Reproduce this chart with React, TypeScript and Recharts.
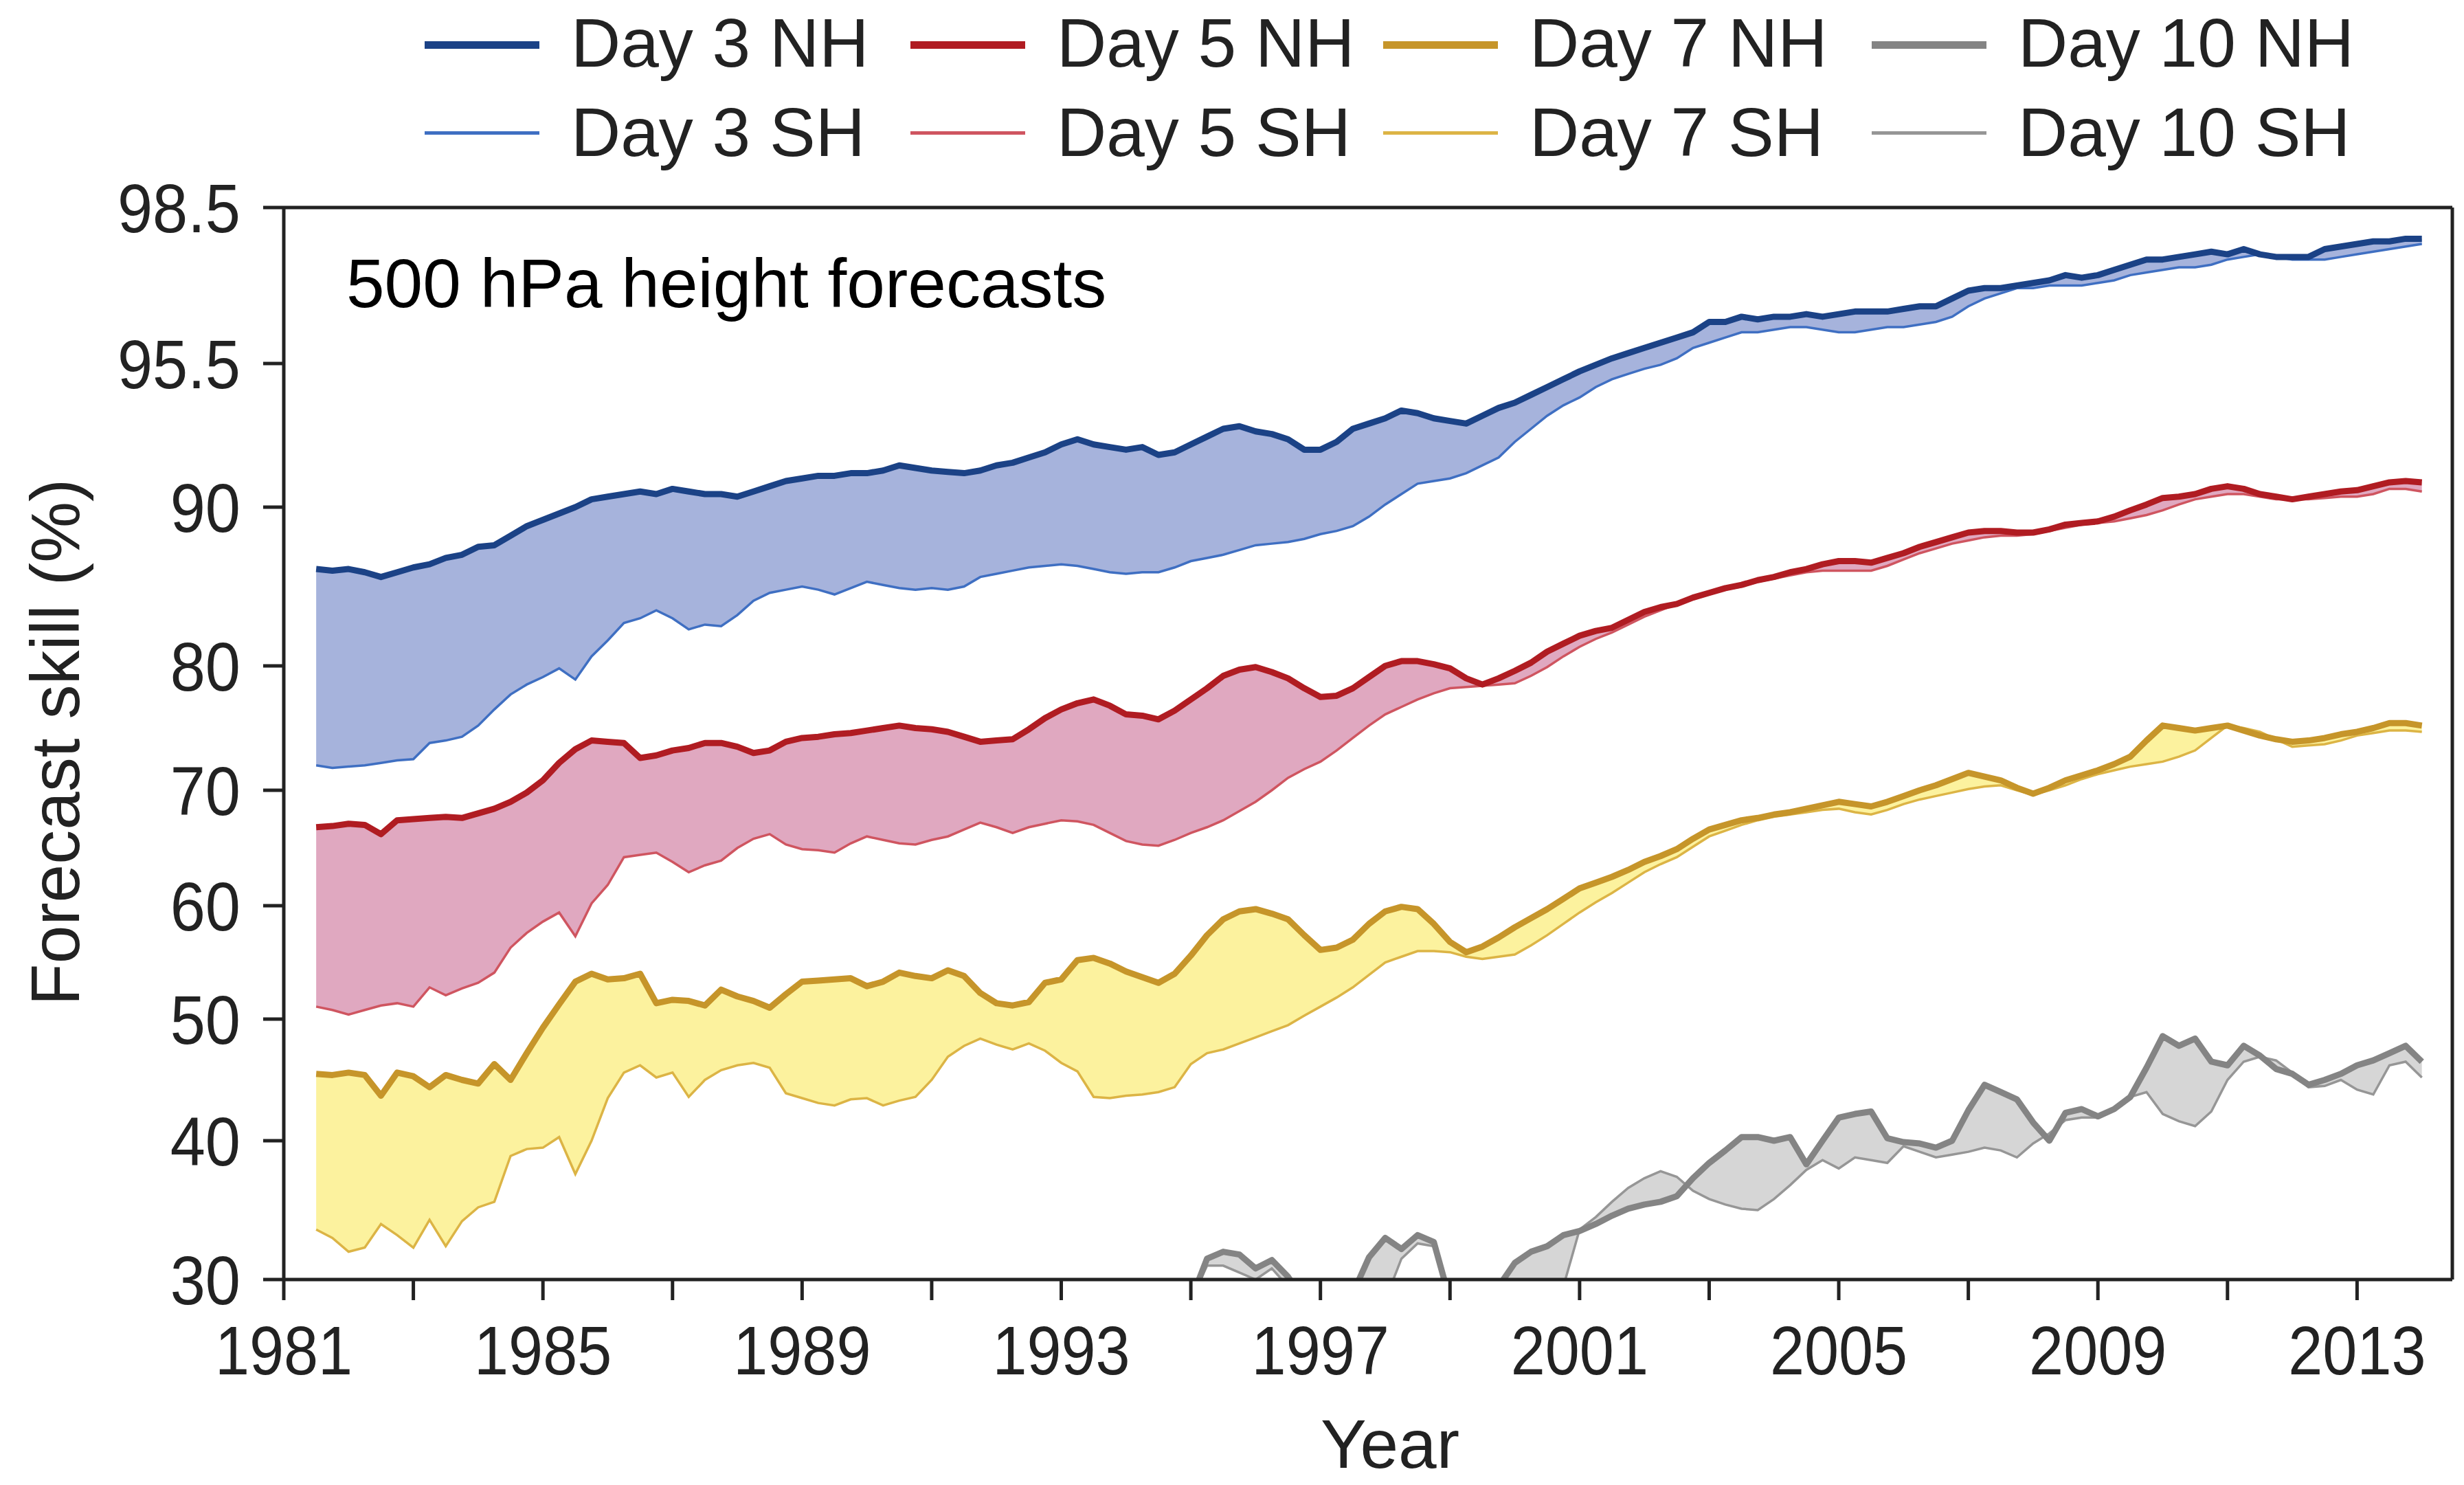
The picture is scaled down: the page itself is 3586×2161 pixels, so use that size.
import { Area, ComposedChart, Line, ReferenceLine, XAxis, YAxis } from "recharts";

// Running-mean anomaly correlation of 500 hPa height, sampled every quarter year from 1981.5
const FIRST_YEAR = 1981.5;
const STEP = 0.25;
// Day 10 records only show up on the plot from 1995 on
const DAY10_FIRST_YEAR = 1995;

const DAY3_NH = [
  86.1, 86.0,
  86.1, 85.9, 85.6, 85.9, 86.2, 86.4, 86.8, 87.0, 87.5, 87.6, 88.2, 88.8,
  89.2, 89.6, 90.0, 90.3, 90.4, 90.5, 90.6, 90.5, 90.7, 90.6, 90.5, 90.5,
  90.4, 90.6, 90.8, 91.0, 91.1, 91.2, 91.2, 91.3, 91.3, 91.4, 91.6, 91.5,
  91.4, 91.35, 91.3, 91.4, 91.6, 91.7, 91.9, 92.1, 92.4, 92.6, 92.4, 92.3,
  92.2, 92.3, 92.0, 92.1, 92.4, 92.7, 93.0, 93.1, 92.9, 92.8, 92.6, 92.2,
  92.2, 92.5, 93.0, 93.2, 93.4, 93.7, 93.6, 93.4, 93.3, 93.2, 93.5, 93.8,
  94.0, 94.3, 94.6, 94.9, 95.2, 95.45, 95.6, 95.7, 95.8, 95.9, 96.0, 96.1,
  96.3, 96.3, 96.4, 96.35, 96.4, 96.4, 96.45, 96.4, 96.45, 96.5, 96.5, 96.5,
  96.55, 96.6, 96.6, 96.75, 96.9, 96.95, 96.95, 97.0, 97.05, 97.1, 97.2, 97.15,
  97.2, 97.3, 97.4, 97.5, 97.5, 97.55, 97.6, 97.65, 97.6, 97.7, 97.6, 97.55,
  97.55, 97.55, 97.7, 97.75, 97.8, 97.85, 97.85, 97.9,
  97.9,
];

const DAY3_SH = [
  72.0, 71.8,
  71.9, 72.0, 72.2, 72.4, 72.5, 73.8, 74.0, 74.3, 75.2, 76.5, 77.7, 78.5,
  79.1, 79.8, 78.9, 80.6, 81.6, 82.7, 83.0, 83.5, 83.0, 82.3, 82.6, 82.5,
  83.2, 84.1, 84.6, 84.8, 85.0, 84.8, 84.5, 84.9, 85.3, 85.1, 84.9, 84.8,
  84.9, 84.8, 85.0, 85.6, 85.8, 86.0, 86.2, 86.3, 86.4, 86.3, 86.1, 85.9,
  85.8, 85.9, 85.9, 86.2, 86.6, 86.8, 87.0, 87.3, 87.6, 87.7, 87.8, 88.0,
  88.3, 88.5, 88.8, 89.4, 90.1, 90.5, 90.9, 91.0, 91.1, 91.3, 91.6, 91.9,
  92.5, 93.0, 93.5, 93.9, 94.2, 94.6, 94.9, 95.1, 95.3, 95.45, 95.6, 95.8,
  95.9, 96.0, 96.1, 96.1, 96.15, 96.2, 96.2, 96.15, 96.1, 96.1, 96.15, 96.2,
  96.2, 96.25, 96.3, 96.4, 96.6, 96.75, 96.85, 96.95, 96.95, 97.0, 97.0, 97.0,
  97.05, 97.1, 97.2, 97.25, 97.3, 97.35, 97.35, 97.4, 97.5, 97.55, 97.6, 97.55,
  97.5, 97.5, 97.5, 97.55, 97.6, 97.65, 97.7, 97.75,
  97.8,
];

const DAY5_NH = [
  66.8, 66.9,
  67.1, 67.0, 66.2, 67.4, 67.5, 67.6, 67.7, 67.6, 68.0, 68.4, 69.0, 69.8,
  70.8, 72.2, 73.3, 74.0, 73.9, 73.8, 72.6, 72.8, 73.2, 73.4, 73.8, 73.8,
  73.5, 73.0, 73.2, 73.9, 74.2, 74.3, 74.5, 74.6, 74.8, 75.0, 75.2, 75.0,
  74.9, 74.7, 74.3, 73.9, 74.0, 74.1, 74.9, 75.8, 76.5, 77.0, 77.3, 76.8,
  76.1, 76.0, 75.7, 76.4, 77.3, 78.2, 79.2, 79.7, 79.9, 79.5, 79.0, 78.2,
  77.5, 77.6, 78.2, 79.1, 80.0, 80.3, 80.3, 80.1, 79.8, 79.0, 78.5, 79.0,
  79.6, 80.2, 80.9, 81.4, 81.9, 82.2, 82.4, 82.9, 83.4, 83.7, 83.9, 84.3,
  84.6, 84.9, 85.1, 85.4, 85.6, 85.9, 86.1, 86.4, 86.6, 86.6, 86.5, 86.8,
  87.1, 87.5, 87.8, 88.1, 88.4, 88.5, 88.5, 88.4, 88.4, 88.6, 88.9, 89.0,
  89.1, 89.4, 89.8, 90.1, 90.35, 90.4, 90.5, 90.7, 90.8, 90.7, 90.5, 90.4,
  90.3, 90.4, 90.5, 90.6, 90.65, 90.8, 90.95, 91.0,
  90.95,
];

const DAY5_SH = [
  51.1, 50.8,
  50.4, 50.8, 51.2, 51.4, 51.1, 52.8, 52.1, 52.7, 53.2, 54.1, 56.3, 57.6,
  58.6, 59.4, 57.3, 60.2, 61.8, 64.2, 64.4, 64.6, 63.8, 62.9, 63.5, 63.9,
  65.0, 65.8, 66.2, 65.3, 64.9, 64.8, 64.6, 65.4, 66.0, 65.7, 65.4, 65.3,
  65.7, 66.0, 66.6, 67.2, 66.8, 66.3, 66.8, 67.1, 67.4, 67.3, 67.0, 66.3,
  65.6, 65.3, 65.2, 65.7, 66.3, 66.8, 67.4, 68.2, 69.0, 70.0, 71.0, 71.7,
  72.3, 73.2, 74.2, 75.2, 76.1, 76.7, 77.3, 77.8, 78.2, 78.3, 78.4, 78.5,
  78.6, 79.2, 79.9, 80.6, 81.2, 81.7, 82.1, 82.6, 83.1, 83.5, 83.9, 84.3,
  84.6, 84.8, 85.0, 85.3, 85.5, 85.7, 85.9, 86.0, 86.0, 86.0, 86.0, 86.3,
  86.7, 87.1, 87.4, 87.7, 87.9, 88.1, 88.2, 88.2, 88.3, 88.5, 88.7, 88.9,
  89.0, 89.1, 89.3, 89.5, 89.8, 90.1, 90.3, 90.4, 90.5, 90.5, 90.4, 90.3,
  90.3, 90.3, 90.35, 90.4, 90.4, 90.5, 90.7, 90.7,
  90.6,
];

const DAY7_NH = [
  45.5, 45.4,
  45.6, 45.4, 43.7, 45.6, 45.3, 44.4, 45.4, 45.0, 44.7, 46.3, 45.0, 47.2,
  49.3, 51.3, 53.3, 54.0, 53.5, 53.6, 54.0, 51.4, 51.7, 51.6, 51.2, 52.6,
  52.0, 51.6, 51.0, 52.2, 53.3, 53.4, 53.5, 53.6, 52.9, 53.3, 54.1, 53.8,
  53.6, 54.3, 53.8, 52.3, 51.4, 51.2, 51.5, 53.2, 53.5, 55.2, 55.4, 54.9,
  54.2, 53.7, 53.2, 54.0, 55.6, 57.4, 58.8, 59.5, 59.7, 59.3, 58.8, 57.4,
  56.1, 56.3, 57.0, 58.4, 59.5, 59.9, 59.7, 58.4, 56.8, 55.9, 56.4, 57.2,
  58.1, 58.9, 59.7, 60.6, 61.5, 62.0, 62.5, 63.1, 63.8, 64.3, 64.9, 65.8,
  66.6, 67.0, 67.4, 67.6, 67.9, 68.1, 68.4, 68.7, 69.0, 68.8, 68.6, 69.0,
  69.5, 70.0, 70.4, 70.9, 71.4, 71.1, 70.8, 70.2, 69.7, 70.2, 70.8, 71.2,
  71.6, 72.1, 72.7, 74.0, 75.2, 75.0, 74.8, 75.0, 75.2, 74.8, 74.4, 74.1,
  73.9, 74.0, 74.2, 74.5, 74.7, 75.0, 75.4, 75.4,
  75.2,
];

const DAY7_SH = [
  33.6, 33.0,
  32.0, 32.3, 34.0, 33.2, 32.3, 34.3, 32.4, 34.2, 35.2, 35.6, 38.9, 39.4,
  39.5, 40.3, 37.6, 40.0, 43.5, 45.6, 46.2, 45.2, 45.6, 43.6, 45.0, 45.8,
  46.2, 46.4, 46.0, 43.9, 43.5, 43.1, 42.9, 43.4, 43.5, 42.9, 43.3, 43.6,
  45.0, 46.9, 47.8, 48.4, 47.9, 47.5, 48.0, 47.4, 46.4, 45.7, 43.6, 43.5,
  43.7, 43.8, 44.0, 44.4, 46.3, 47.2, 47.5, 48.0, 48.5, 49.0, 49.5, 50.3,
  51.1, 51.9, 52.8, 53.9, 55.0, 55.5, 56.0, 56.0, 55.9, 55.5, 55.3, 55.5,
  55.7, 56.5, 57.4, 58.4, 59.4, 60.3, 61.1, 62.0, 62.9, 63.6, 64.2, 65.1,
  66.0, 66.5, 67.0, 67.4, 67.7, 67.9, 68.1, 68.3, 68.4, 68.1, 67.9, 68.3,
  68.8, 69.2, 69.5, 69.8, 70.1, 70.3, 70.4, 70.0, 69.6, 70.0, 70.4, 70.9,
  71.3, 71.6, 71.9, 72.1, 72.3, 72.7, 73.2, 74.2, 75.2, 75.0, 74.7, 74.1,
  73.5, 73.6, 73.7, 74.0, 74.4, 74.6, 74.8, 74.8,
  74.7,
];

const DAY10_NH = [
  28.5, 31.5, 32.0, 31.8, 30.8, 31.4, 30.2, 28.5, 27.5, 28.0, 29.0, 31.6,
  33.0, 32.2, 33.2, 32.7, 28.5, 27.5, 28.0, 29.5, 31.2, 32.0, 32.4, 33.2,
  33.5, 34.0, 34.6, 35.1, 35.4, 35.6, 36.0, 37.3, 38.4, 39.3, 40.3, 40.3,
  40.0, 40.3, 38.3, 40.0, 41.9, 42.2, 42.4, 40.2, 39.9, 39.8, 39.5, 40.0,
  42.5, 44.6, 44.0, 43.4, 41.5, 40.0, 42.3, 42.6, 42.0, 42.6, 43.6, 46.0,
  48.6, 47.8, 48.4, 46.5, 46.2, 47.8, 47.0, 45.9, 45.5, 44.6, 45.0, 45.5,
  46.2, 46.6, 47.2, 47.8,
  46.5,
];

const DAY10_SH = [
  28.5, 31.0, 31.0, 30.5, 30.0, 30.8, 29.5, 28.0, 27.0, 27.5, 28.0, 29.5,
  28.5, 31.5, 32.6, 32.4, 28.0, 27.0, 27.0, 27.5, 28.0, 28.5, 29.0, 29.5,
  33.6, 34.5, 35.6, 36.6, 37.3, 37.8, 37.4, 36.4, 35.8, 35.4, 35.1, 35.0,
  35.8, 36.8, 37.9, 38.6, 38.0, 38.8, 38.6, 38.4, 39.6, 39.2, 38.8, 39.0,
  39.2, 39.5, 39.3, 38.8, 39.8, 40.6, 41.7, 41.9, 41.9, 42.6, 43.6, 44.0,
  42.2, 41.6, 41.2, 42.4, 45.0, 46.5, 46.9, 46.6, 45.6, 44.4, 44.5, 45.0,
  44.2, 43.8, 46.2, 46.5,
  45.2,
];

const YEAR_TICKS = [1981, 1983, 1985, 1987, 1989, 1991, 1993, 1995, 1997, 1999, 2001, 2003, 2005, 2007, 2009, 2011, 2013];
const YEAR_LABEL_EVERY = 4;
const X_DOMAIN: [number, number] = [1981, 2014.47];

// Skill axis is stretched towards 100 %: each tick value and its height (px) above the 30 % line
const SKILL_TICKS = [30, 40, 50, 60, 70, 80, 90, 95.5, 98.5];
const SKILL_AXIS = [0, 202, 379, 544, 712, 893, 1124, 1333, 1560];
const SKILL_LABELS = ["30", "40", "50", "60", "70", "80", "90", "95.5", "98.5"];

const SERIES = [
  { key: "d3", nh: DAY3_NH, sh: DAY3_SH, start: FIRST_YEAR, nhLabel: "Day 3 NH", shLabel: "Day 3 SH", nhColor: "#1b4286", shColor: "#3f6fc2", fill: "#a6b3dc" },
  { key: "d5", nh: DAY5_NH, sh: DAY5_SH, start: FIRST_YEAR, nhLabel: "Day 5 NH", shLabel: "Day 5 SH", nhColor: "#b01c22", shColor: "#cf5560", fill: "#e0a8c0" },
  { key: "d7", nh: DAY7_NH, sh: DAY7_SH, start: FIRST_YEAR, nhLabel: "Day 7 NH", shLabel: "Day 7 SH", nhColor: "#c6952a", shColor: "#dcb445", fill: "#fcf29e" },
  { key: "d10", nh: DAY10_NH, sh: DAY10_SH, start: DAY10_FIRST_YEAR, nhLabel: "Day 10 NH", shLabel: "Day 10 SH", nhColor: "#848484", shColor: "#969696", fill: "#d6d6d6" },
];

const LEGEND_X = [618, 1325, 2013, 2724];

const AXIS_COLOR = "#222";
const FONT = "'Liberation Sans', Arial, Helvetica, sans-serif";

function skillToAxis(value: number | null | undefined): number | null {
  if (value == null) return null;
  let i = 0;
  while (i < SKILL_TICKS.length - 2 && value > SKILL_TICKS[i + 1]) i++;
  const t = (value - SKILL_TICKS[i]) / (SKILL_TICKS[i + 1] - SKILL_TICKS[i]);
  return SKILL_AXIS[i] + t * (SKILL_AXIS[i + 1] - SKILL_AXIS[i]);
}

function buildRows() {
  const rows: Record<string, any>[] = [];
  for (let i = 0; i < DAY3_NH.length; i++) {
    const year = FIRST_YEAR + i * STEP;
    const row: Record<string, any> = { year };
    for (const s of SERIES) {
      const j = Math.round((year - s.start) / STEP);
      const nh = j >= 0 ? skillToAxis(s.nh[j]) : null;
      const sh = j >= 0 ? skillToAxis(s.sh[j]) : null;
      row[`${s.key}Nh`] = nh;
      row[`${s.key}Sh`] = sh;
      row[`${s.key}Band`] = nh != null && sh != null ? [sh, nh] : null;
    }
    rows.push(row);
  }
  return rows;
}

const rows = buildRows();

function YearTick(props: any) {
  const { x, y, payload } = props;
  if ((payload.value - 1981) % YEAR_LABEL_EVERY !== 0) return <g />;
  return (
    <text
      x={x}
      y={y + 108}
      textAnchor="middle"
      fontSize={100}
      fontFamily={FONT}
      fill={AXIS_COLOR}
      transform={`translate(${x} 0) scale(0.9 1) translate(${-x} 0)`}
    >
      {payload.value}
    </text>
  );
}

function SkillTick(props: any) {
  const { x, y, payload } = props;
  const idx = SKILL_AXIS.indexOf(payload.value);
  return (
    <text
      x={x}
      y={y}
      dy="0.36em"
      textAnchor="end"
      fontSize={100}
      fontFamily={FONT}
      fill={AXIS_COLOR}
      transform={`translate(${x} 0) scale(0.92 1) translate(${-x} 0)`}
    >
      {idx >= 0 ? SKILL_LABELS[idx] : ""}
    </text>
  );
}

export default function App() {
  const marks = SERIES.flatMap((s) => [
    <Area
      key={`${s.key}-band`}
      dataKey={`${s.key}Band`}
      type="linear"
      stroke="none"
      fill={s.fill}
      fillOpacity={1}
      connectNulls={false}
      isAnimationActive={false}
    />,
    <Line
      key={`${s.key}-sh`}
      dataKey={`${s.key}Sh`}
      type="linear"
      stroke={s.shColor}
      strokeWidth={3.5}
      dot={false}
      activeDot={false}
      connectNulls={false}
      isAnimationActive={false}
    />,
    <Line
      key={`${s.key}-nh`}
      dataKey={`${s.key}Nh`}
      type="linear"
      stroke={s.nhColor}
      strokeWidth={9}
      strokeLinejoin="round"
      dot={false}
      activeDot={false}
      connectNulls={false}
      isAnimationActive={false}
    />,
  ]);

  return (
    <div style={{ position: "absolute", left: 0, top: 0, width: 3586, height: 2161, background: "#fff", fontFamily: FONT, overflow: "hidden" }}>
      <ComposedChart width={3586} height={2161} data={rows} margin={{ top: 302, right: 17, bottom: 0, left: 0 }}>
        <XAxis
          dataKey="year"
          type="number"
          domain={X_DOMAIN}
          ticks={YEAR_TICKS}
          allowDataOverflow
          height={299}
          tickSize={30}
          tickMargin={0}
          tick={<YearTick />}
          axisLine={{ stroke: AXIS_COLOR, strokeWidth: 5 }}
          tickLine={{ stroke: AXIS_COLOR, strokeWidth: 5 }}
        />
        <YAxis
          type="number"
          domain={[0, 1560]}
          ticks={SKILL_AXIS}
          allowDataOverflow
          width={413}
          tickSize={30}
          tickMargin={33}
          tick={<SkillTick />}
          axisLine={{ stroke: AXIS_COLOR, strokeWidth: 5 }}
          tickLine={{ stroke: AXIS_COLOR, strokeWidth: 5 }}
        />
        {marks}
        <ReferenceLine y={1560} stroke={AXIS_COLOR} strokeWidth={5} />
        <ReferenceLine x={X_DOMAIN[1]} stroke={AXIS_COLOR} strokeWidth={5} />
      </ComposedChart>

      {SERIES.map((s, c) => (
        <div key={s.key}>
          <div style={{ position: "absolute", left: LEGEND_X[c], top: 60, width: 167, height: 11, background: s.nhColor }} />
          <div style={{ position: "absolute", left: LEGEND_X[c] + 213, top: 12, fontSize: 100, lineHeight: "100px", color: AXIS_COLOR, whiteSpace: "nowrap" }}>
            {s.nhLabel}
          </div>
          <div style={{ position: "absolute", left: LEGEND_X[c], top: 191, width: 167, height: 5, background: s.shColor }} />
          <div style={{ position: "absolute", left: LEGEND_X[c] + 213, top: 142, fontSize: 100, lineHeight: "100px", color: AXIS_COLOR, whiteSpace: "nowrap" }}>
            {s.shLabel}
          </div>
        </div>
      ))}

      <div style={{ position: "absolute", left: 504, top: 362, fontSize: 100, lineHeight: "100px", color: "#000", whiteSpace: "nowrap" }}>
        500 hPa height forecasts
      </div>
      <div style={{ position: "absolute", left: 1823, top: 2046, width: 400, textAlign: "center", fontSize: 100, lineHeight: "110px", color: AXIS_COLOR }}>
        Year
      </div>
      <div
        style={{
          position: "absolute",
          left: 80,
          top: 1080,
          transform: "translate(-50%, -50%) rotate(-90deg)",
          fontSize: 100,
          lineHeight: "100px",
          color: AXIS_COLOR,
          whiteSpace: "nowrap",
        }}
      >
        Forecast skill (%)
      </div>
    </div>
  );
}
